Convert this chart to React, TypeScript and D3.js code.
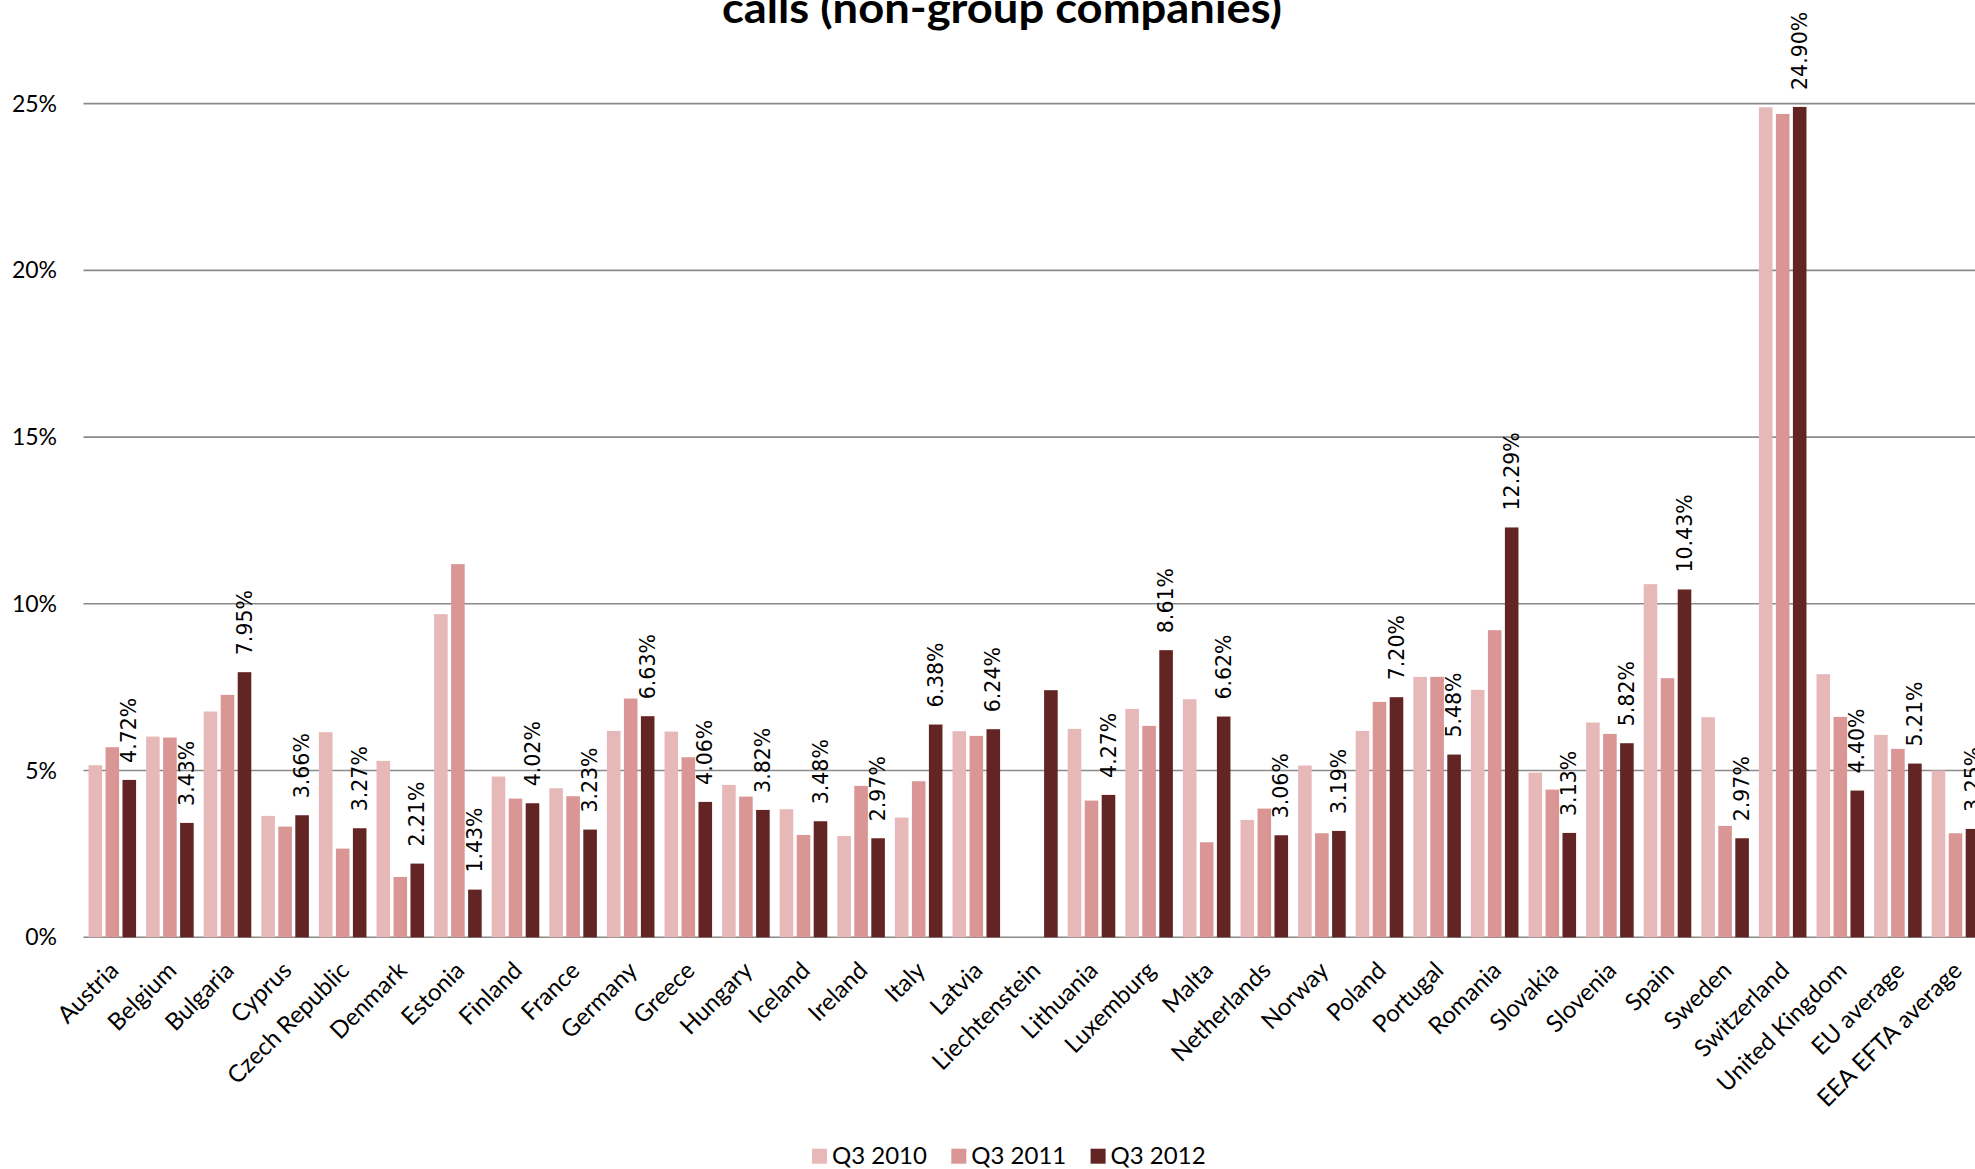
import React from "react";
import * as d3 from "d3";

const categories = [
  "Austria", "Belgium", "Bulgaria", "Cyprus", "Czech Republic", "Denmark", "Estonia",
  "Finland", "France", "Germany", "Greece", "Hungary", "Iceland", "Ireland", "Italy",
  "Latvia", "Liechtenstein", "Lithuania", "Luxemburg", "Malta", "Netherlands", "Norway",
  "Poland", "Portugal", "Romania", "Slovakia", "Slovenia", "Spain", "Sweden",
  "Switzerland", "United Kingdom", "EU average", "EEA EFTA average",
];

const seriesNames = ["Q3 2010", "Q3 2011", "Q3 2012"];

const q3_2010: (number | null)[] = [
  5.16, 6.02, 6.77, 3.64, 6.15, 5.29, 9.69, 4.82, 4.47, 6.19, 6.17, 4.57, 3.84, 3.04, 3.59,
  6.18, null, 6.25, 6.85, 7.14, 3.52, 5.15, 6.19, 7.81, 7.42, 4.94, 6.44, 10.59, 6.6,
  24.89, 7.89, 6.07, 5.0,
];

const q3_2011: (number | null)[] = [
  5.7, 5.99, 7.27, 3.32, 2.66, 1.81, 11.19, 4.16, 4.23, 7.16, 5.4, 4.22, 3.07, 4.54, 4.68,
  6.04, null, 4.1, 6.34, 2.85, 3.86, 3.12, 7.06, 7.81, 9.21, 4.43, 6.1, 7.77, 3.34,
  24.69, 6.61, 5.65, 3.12,
];

const q3_2012: (number | null)[] = [
  4.72, 3.43, 7.95, 3.66, 3.27, 2.21, 1.43, 4.02, 3.23, 6.63, 4.06, 3.82, 3.48, 2.97, 6.38,
  6.24, 7.41, 4.27, 8.61, 6.62, 3.06, 3.19, 7.2, 5.48, 12.29, 3.13, 5.82, 10.43, 2.97,
  24.9, 4.4, 5.21, 3.25,
];

const q3_2012Labels = [
  "4.72%", "3.43%", "7.95%", "3.66%", "3.27%", "2.21%", "1.43%", "4.02%", "3.23%", "6.63%",
  "4.06%", "3.82%", "3.48%", "2.97%", "6.38%", "6.24%", "", "4.27%", "8.61%", "6.62%",
  "3.06%", "3.19%", "7.20%", "5.48%", "12.29%", "3.13%", "5.82%", "10.43%", "2.97%",
  "24.90%", "4.40%", "5.21%", "3.25%",
];

const yTicks = [0, 5, 10, 15, 20, 25];
const yTickLabels = ["0%", "5%", "10%", "15%", "20%", "25%"];

const colors = ["#E6B9B8", "#D99694", "#632523"];
const titleText = "calls (non-group companies)";

const W = 1975;
const H = 1169;
const FONT = "Lato, 'Open Sans', sans-serif";

export default function App() {
  const step = 57.6;
  const left = 83.5;
  const x = d3
    .scaleBand<string>()
    .domain(categories)
    .range([left, left + categories.length * step])
    .paddingInner(0.115)
    .paddingOuter(0.0575);
  const xs = d3.scaleBand<string>().domain(seriesNames).range([0, x.bandwidth()]);
  const y = d3.scaleLinear().domain([0, 25]).range([937.3, 103.6]);
  const series = [q3_2010, q3_2011, q3_2012];
  const gap = 3.4;

  return (
    <div style={{ position: "absolute", left: 0, top: 0, width: W, height: H, overflow: "hidden", background: "#fff" }}>
      <svg width={W} height={H} style={{ display: "block" }}>
        <rect x={0} y={0} width={W} height={H} fill="#fff" />
        <text
          x={1002}
          y={23}
          textAnchor="middle"
          fontFamily={FONT}
          fontWeight="bold"
          fontSize={42}
          textLength={560}
          lengthAdjust="spacingAndGlyphs"
          fill="#000"
        >
          {titleText}
        </text>

        {yTicks.map((t, i) => (
          <g key={t}>
            <line x1={left} x2={W + 20} y1={y(t)} y2={y(t)} stroke="#8a8a8a" strokeWidth={1.6} />
            <text x={57} y={y(t) + 8} textAnchor="end" fontFamily={FONT} fontSize={23} fill="#000">
              {yTickLabels[i]}
            </text>
          </g>
        ))}

        {categories.map((c, ci) => (
          <g key={c}>
            {series.map((s, si) => {
              const v = s[ci];
              if (v == null) return null;
              const bx = (x(c) as number) + (xs(seriesNames[si]) as number) + gap / 2;
              return (
                <rect
                  key={si}
                  x={bx}
                  y={y(v)}
                  width={xs.bandwidth() - gap}
                  height={y(0) - y(v)}
                  fill={colors[si]}
                />
              );
            })}
          </g>
        ))}

        {categories.map((c, ci) => {
          const v = q3_2012[ci];
          const lab = q3_2012Labels[ci];
          if (v == null || !lab) return null;
          const cx = (x(c) as number) + (xs("Q3 2012") as number) + xs.bandwidth() / 2;
          return (
            <text
              key={c}
              transform={`translate(${cx + 7.2},${y(v) - 17}) rotate(-90)`}
              fontFamily="'DejaVu Sans', sans-serif"
              fontSize={20.5}
              fill="#000"
            >
              {lab}
            </text>
          );
        })}

        {categories.map((c) => {
          const cx = (x(c) as number) + x.bandwidth() / 2;
          return (
            <text
              key={c}
              transform={`translate(${cx + 8},${972}) rotate(-45)`}
              textAnchor="end"
              fontFamily={FONT}
              fontSize={24}
              fill="#000"
            >
              {c}
            </text>
          );
        })}

        {seriesNames.map((s, i) => {
          const lx = 812 + i * 139.3;
          return (
            <g key={s}>
              <rect x={lx} y={1148.7} width={15} height={15} fill={colors[i]} />
              <text x={lx + 20} y={1164} fontFamily={FONT} fontSize={24} fill="#000">
                {s}
              </text>
            </g>
          );
        })}
      </svg>
    </div>
  );
}
